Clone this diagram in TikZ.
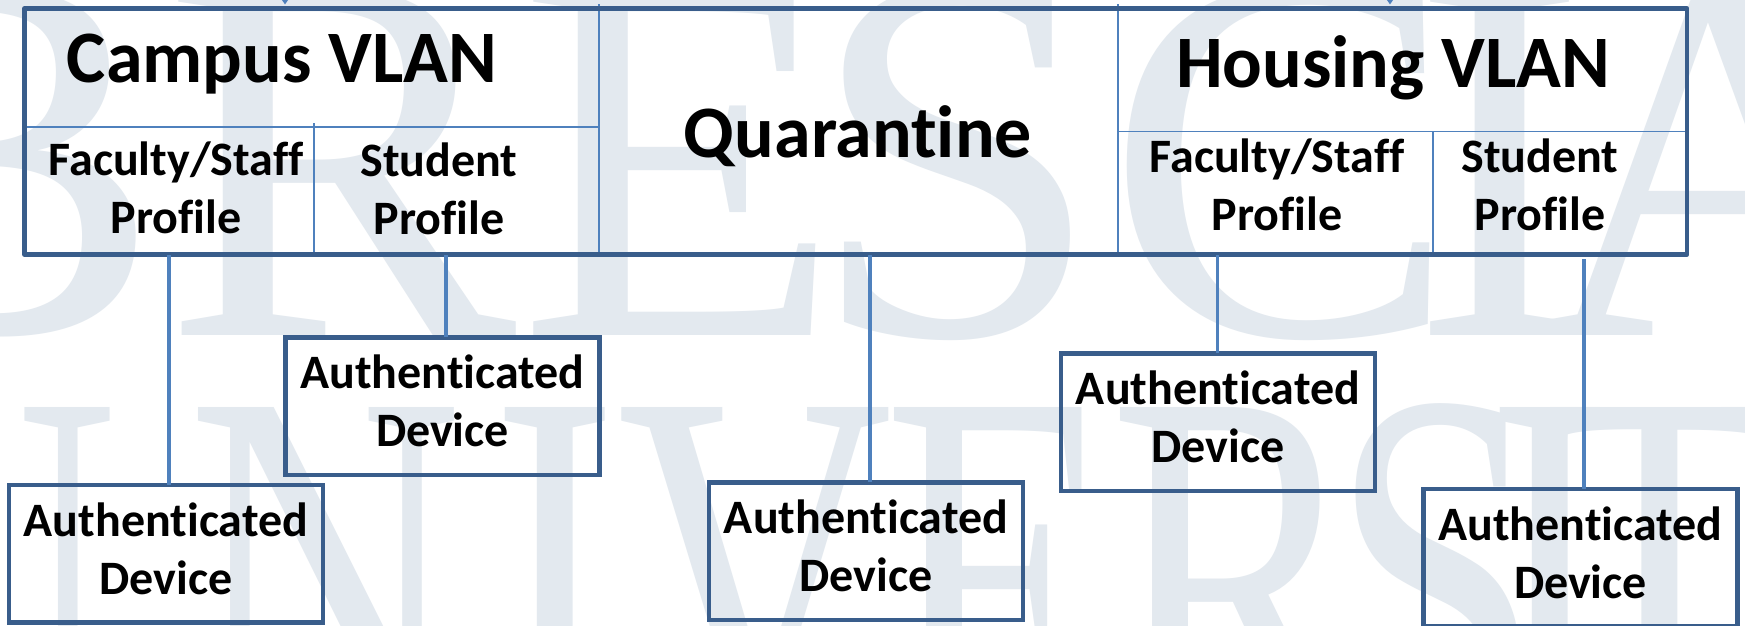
\documentclass[tikz,border=0pt]{standalone}
\usepackage{fontspec}
\usepackage{graphicx}
\setmainfont{Carlito}[Ligatures=NoCommon]
\newfontfamily\wmfont{Liberation Serif}
\usetikzlibrary{arrows.meta,calc}

\definecolor{frameblue}{HTML}{395D8B}
\definecolor{lineblue}{HTML}{4F81BD}
\definecolor{wmgray}{HTML}{E3E9EF}

% two centred lines, first baseline on the node's base
\newcommand{\twoline}[2]{\begin{tabular}[t]{@{}c@{}}#1\\#2\end{tabular}}
% two centred lines, vertically centred
\newcommand{\devtext}{\begin{tabular}{@{}c@{}}Authenticated\\Device\end{tabular}}

\begin{document}
\begin{tikzpicture}[x=1pt,y=-1pt,
  wmark/.style={font=\wmfont\fontsize{530}{530}\selectfont, text=wmgray, inner sep=0, anchor=base},
  title/.style={font=\fontsize{74}{89}\selectfont\bfseries, inner sep=0, anchor=base},
  cell/.style={font=\fontsize{48}{58}\selectfont\bfseries, inner sep=0, anchor=base},
  device/.style={draw=frameblue, line width=4.5, minimum width=314, minimum height=137.5,
                 inner sep=0, outer sep=0, font=\fontsize{48}{58}\selectfont\bfseries},
  divider/.style={draw=lineblue, line width=1.8},
  conn/.style={draw=lineblue, line width=3.2},
  frame/.style={draw=frameblue, line width=4.8, line join=round}]

\useasboundingbox (0,0) rectangle (1745,625);
\fill[white] (0,0) rectangle (1745,625);

% watermark lettering
\foreach \ch/\cx [count=\i] in {B/-15, R/340, E/680, S/956, C/1282, I/1500, A/1725}
  \node[wmark] (wmtop\i) at (\cx,335) {\ch};
\foreach \ch/\cx [count=\i] in {U/-20, N/325, I/555, V/755, E/1000, R/1237, S/1437, I/1550, T/1660, Y/1855}
  \node[wmark] (wmbot\i) at (\cx,754) {\scalebox{0.72}[1]{\ch}};

% the VLAN table
\node[inner sep=0, outer sep=0, minimum width=1662.5, minimum height=246] (vlan) at (855.75,131.5) {};
\coordinate (cq) at (599,4);
\coordinate (qh) at (1118,4);
\coordinate (crow) at (0,127);
\coordinate (hrow) at (0,131.5);
\coordinate (cprof) at (314,123);
\coordinate (hprof) at (1433,131.5);

\draw[divider] (cq) -- (cq |- vlan.south);
\draw[divider] (qh) -- (qh |- vlan.south);
\draw[divider] (vlan.west |- crow) -- (cq |- crow);
\draw[divider] (qh |- hrow) -- (vlan.east |- hrow);
\draw[divider] (cprof) -- (cprof |- vlan.south);
\draw[divider] (hprof) -- (hprof |- vlan.south);

% feeds entering the table from above
\coordinate (feedA) at (285,-40);
\coordinate (feedB) at (1390,-40);
\draw[conn, -{Triangle[width=9,length=7]}] (feedA) -- ([yshift=4]feedA |- vlan.north);
\draw[conn, -{Triangle[width=9,length=7]}] (feedB) -- ([yshift=4]feedB |- vlan.north);

\draw[frame] (vlan.north west) rectangle (vlan.south east);

% cell labels
\node[title] (campus) at (282,82) {Campus VLAN};
\node[title] (quar) at (858,157) {Quarantine};
\node[title] (housing) at (1393,87) {Housing VLAN};
\node[cell] (cfac) at (176,175) {\twoline{Faculty/Staff}{Profile}};
\node[cell] (cstu) at (439,176) {\twoline{Student}{Profile}};
\node[cell] (hfac) at (1277,172) {\twoline{Faculty/Staff}{Profile}};
\node[cell] (hstu) at (1540,172) {\twoline{Student}{Profile}};

% authenticated devices
\node[device] (dev1) at (166,553.75) {\devtext};
\node[device] (dev2) at (442.5,406) {\devtext};
\node[device] (dev3) at (866,551) {\devtext};
\node[device] (dev4) at (1218,422) {\devtext};
\node[device] (dev5) at (1580.5,557.5) {\devtext};

% links from profiles to devices
\draw[conn] ([xshift=3]dev1.north) -- ([xshift=3]dev1.north |- vlan.south);
\draw[conn] ([xshift=3.5]dev2.north) -- ([xshift=3.5]dev2.north |- vlan.south);
\draw[conn] ([xshift=4]dev3.north) -- ([xshift=4]dev3.north |- vlan.south);
\draw[conn] ([xshift=-0.5]dev4.north) -- ([xshift=-0.5]dev4.north |- vlan.south);
\draw[conn] ([xshift=3.5]dev5.north) -- ([xshift=3.5,yshift=-4.5]dev5.north |- vlan.south);

\end{tikzpicture}
\end{document}
